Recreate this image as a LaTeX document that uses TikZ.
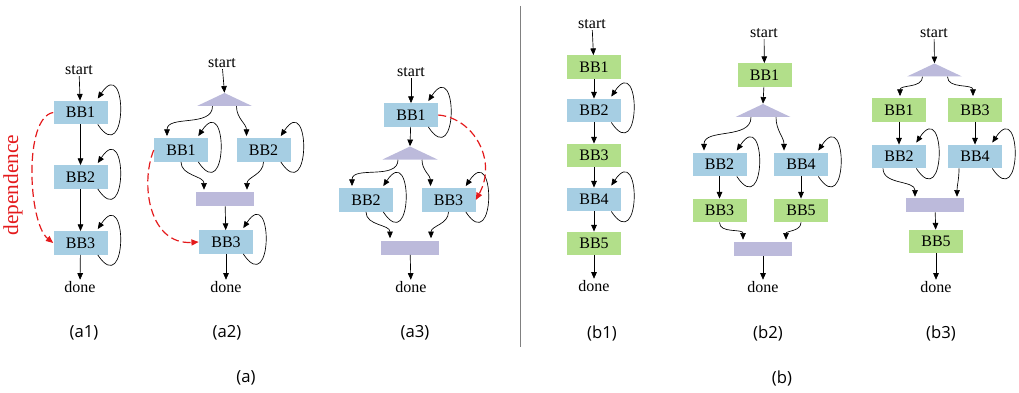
\documentclass[tikz,border=0pt]{standalone}
\usepackage{fontspec}
\setmainfont{Liberation Serif}
\newfontfamily\capfont{Open Sans}
\usetikzlibrary{arrows.meta,calc}

\definecolor{bbblue}{HTML}{A6CEE3}
\definecolor{bbgreen}{HTML}{B2DF8A}
\definecolor{joincol}{HTML}{BCBADB}
\definecolor{depred}{HTML}{E41A1C}

\tikzset{
  bb/.style={rectangle, inner sep=0pt, minimum width=40.5pt, minimum height=17.5pt, font=\fontsize{12}{14}\selectfont},
  bblk/.style={bb, fill=bbblue},
  gblk/.style={bb, fill=bbgreen},
  lbl/.style={inner sep=1pt, font=\fontsize{12}{14}\selectfont},
  joinbar/.style={rectangle, fill=joincol, inner sep=0pt, minimum width=43.5pt, minimum height=10.5pt},
  forktri/.style={rectangle, inner sep=0pt, minimum width=41.25pt, minimum height=9.75pt,
    path picture={\fill[joincol] (path picture bounding box.south west) -- (path picture bounding box.south east) -- (path picture bounding box.north) -- cycle;}},
  flow/.style={-{Triangle[length=5pt,width=4.2pt]}, line width=0.5pt},
  selfloop/.style={flow, to path={.. controls +(30,45) and +(30,-45) .. (\tikztotarget)}},
  dep/.style={-{Triangle[length=5.5pt,width=4.5pt,fill=depred]}, draw=depred, dash pattern=on 6pt off 3pt, line width=0.9pt},
  subcap/.style={font=\capfont\fontsize{12.5}{15}\selectfont},
}
% loop from the bottom of a block back into its top
\newcommand\bbloop[1]{\draw[selfloop] ($(#1.south east)+(-10,0)$) to ($(#1.north east)+(-10,-2)$);}

\begin{document}
\begin{tikzpicture}[x=0.75pt,y=-0.75pt]
\useasboundingbox (0,0) rectangle (1019,392);

% (a1)
\node[lbl] (a1s) at (79,70) {start};
\node[bblk] (a1b1) at (80.5,112.5) {BB1};
\node[bblk] (a1b2) at (80.5,177) {BB2};
\node[bblk] (a1b3) at (80.5,243) {BB3};
\node[lbl] (a1d) at (80,287) {done};
\draw[flow] (a1s) -- (a1b1);
\draw[flow] (a1b1) -- (a1b2);
\draw[flow] (a1b2) -- (a1b3);
\draw[flow] (a1b3) -- (a1d);
\bbloop{a1b1} \bbloop{a1b2} \bbloop{a1b3}
\node[rotate=90, text=depred, font=\fontsize{16}{18}\selectfont] (deplbl) at (13,185) {dependence};
\draw[dep] (a1b1.west) .. controls +(-30,5) and +(-25,-20) .. (a1b3.west);

% (a2)
\node[lbl] (a2s) at (222,63) {start};
\node[forktri] (a2f) at (224.5,99.5) {};
\node[bblk] (a2b1) at (181,150) {BB1};
\node[bblk] (a2b2) at (263.5,150) {BB2};
\node[joinbar] (a2j) at (225,199) {};
\node[bblk] (a2b3) at (226,242) {BB3};
\node[lbl] (a2d) at (226,287) {done};
\draw[flow] (a2s) -- (a2f.north);
\draw[flow] ($(a2f.south)+(-12,0)$) to[out=-90,in=90] ($(a2b1.north)+(-14,-2)$);
\draw[flow] ($(a2f.south)+(12,0)$) to[out=-90,in=90] ($(a2b2.north)+(-17,-2)$);
\draw[flow] (a2b1.south) to[out=-90,in=90] ($(a2j.north)+(-21,-2)$);
\draw[flow] (a2b2.south) to[out=-90,in=90] ($(a2j.north)+(22,-2)$);
\draw[flow] (a2j) -- (a2b3);
\draw[flow] (a2b3) -- (a2d);
\bbloop{a2b1} \bbloop{a2b2} \bbloop{a2b3}
\draw[dep] (a2b1.west) .. controls +(-14,35) and +(-49,3) .. (a2b3.west);

% (a3)
\node[lbl] (a3s) at (411,72) {start};
\node[bblk] (a3b1) at (411,115) {BB1};
\node[forktri] (a3f) at (410,153) {};
\node[bblk] (a3b2) at (366,200) {BB2};
\node[bblk] (a3b3) at (448.5,200) {BB3};
\node[joinbar] (a3j) at (410,247.5) {};
\node[lbl] (a3d) at (411,287) {done};
\draw[flow] (a3s) -- (a3b1);
\draw[flow] (a3b1) -- (a3f.north);
\draw[flow] ($(a3f.south)+(-12,0)$) to[out=-90,in=90] ($(a3b2.north)+(-14,-2)$);
\draw[flow] ($(a3f.south)+(12,0)$) to[out=-90,in=90] ($(a3b3.north)+(-18,-2)$);
\draw[flow] (a3b2.south) to[out=-90,in=90] ($(a3j.north)+(-20,-2)$);
\draw[flow] (a3b3.south) to[out=-90,in=90] ($(a3j.north)+(21,-2)$);
\draw[flow] (a3j) -- (a3d);
\bbloop{a3b1} \bbloop{a3b2} \bbloop{a3b3}
\draw[dep] (a3b1.east) .. controls +(35,3) and +(22,-40) .. (a3b3.east);

% separator
\draw[gray, line width=1.1pt] (520.7,6) -- (520.7,347);

% (b1)
\node[lbl] (b1s) at (592,24) {start};
\node[gblk] (b1b1) at (594,67) {BB1};
\node[bblk] (b1b2) at (594,110.5) {BB2};
\node[gblk] (b1b3) at (594,155.5) {BB3};
\node[bblk] (b1b4) at (594,199.5) {BB4};
\node[gblk] (b1b5) at (594,243.5) {BB5};
\node[lbl] (b1d) at (594,286) {done};
\draw[flow] (b1s) -- (b1b1);
\draw[flow] (b1b1) -- (b1b2);
\draw[flow] (b1b2) -- (b1b3);
\draw[flow] (b1b3) -- (b1b4);
\draw[flow] (b1b4) -- (b1b5);
\draw[flow] (b1b5) -- (b1d);
\bbloop{b1b2} \bbloop{b1b4}

% (b2)
\node[lbl] (b2s) at (764,33) {start};
\node[gblk] (b2b1) at (764.5,75) {BB1};
\node[forktri] (b2f) at (763,110.5) {};
\node[bblk] (b2b2) at (719.5,164.5) {BB2};
\node[bblk] (b2b4) at (801,164.5) {BB4};
\node[gblk] (b2b3) at (719.5,210.5) {BB3};
\node[gblk] (b2b5) at (801,210.5) {BB5};
\node[joinbar] (b2j) at (763,249) {};
\node[lbl] (b2d) at (763,287) {done};
\draw[flow] (b2s) -- (b2b1);
\draw[flow] (b2b1) -- (b2f.north);
\draw[flow] ($(b2f.south)+(-12,0)$) to[out=-90,in=90] ($(b2b2.north)+(-15.5,-2)$);
\draw[flow] ($(b2f.south)+(13,0)$) to[out=-90,in=90] ($(b2b4.north)+(-17,-2)$);
\draw[flow] (b2b2) -- (b2b3);
\draw[flow] (b2b4) -- (b2b5);
\draw[flow] (b2b3.south) to[out=-90,in=90] ($(b2j.north)+(-20,-2)$);
\draw[flow] (b2b5.south) to[out=-90,in=90] ($(b2j.north)+(23,-2)$);
\draw[flow] (b2j) -- (b2d);
\bbloop{b2b2} \bbloop{b2b4}

% (b3)
\node[lbl] (b3s) at (934,33) {start};
\node[forktri] (b3f) at (934.5,70) {};
\node[gblk] (b3b1) at (899,110) {BB1};
\node[gblk] (b3b3) at (975,110) {BB3};
\node[bblk] (b3b2) at (899,156.5) {BB2};
\node[bblk] (b3b4) at (975,156.5) {BB4};
\node[joinbar] (b3j) at (935,205) {};
\node[gblk] (b3b5) at (936,241.5) {BB5};
\node[lbl] (b3d) at (936,287) {done};
\draw[flow] (b3s) -- (b3f.north);
\draw[flow] ($(b3f.south)+(-12,0)$) to[out=-90,in=90] ($(b3b1.north)+(1,-2)$);
\draw[flow] ($(b3f.south)+(13,0)$) to[out=-90,in=90] ($(b3b3.north)+(-2,-2)$);
\draw[flow] (b3b1) -- (b3b2);
\draw[flow] (b3b3) -- (b3b4);
\draw[flow] ($(b3b2.south)+(-16,0)$) to[out=-90,in=90] ($(b3j.north)+(-20,-1)$);
\draw[flow] ($(b3b4.south)+(-16,0)$) to[out=-90,in=90] ($(b3j.north)+(22,-1)$);
\draw[flow] (b3j) -- (b3b5);
\draw[flow] (b3b5) -- (b3d);
\bbloop{b3b2} \bbloop{b3b4}

% captions
\node[subcap] (ca1) at (84,333) {(a1)};
\node[subcap] (ca2) at (227,333) {(a2)};
\node[subcap] (ca3) at (415,333) {(a3)};
\node[subcap] (cb1) at (602,333) {(b1)};
\node[subcap] (cb2) at (768,333) {(b2)};
\node[subcap] (cb3) at (941,333) {(b3)};
\node[subcap] (ca) at (246,378) {(a)};
\node[subcap] (cb) at (782,378) {(b)};
\end{tikzpicture}
\end{document}
